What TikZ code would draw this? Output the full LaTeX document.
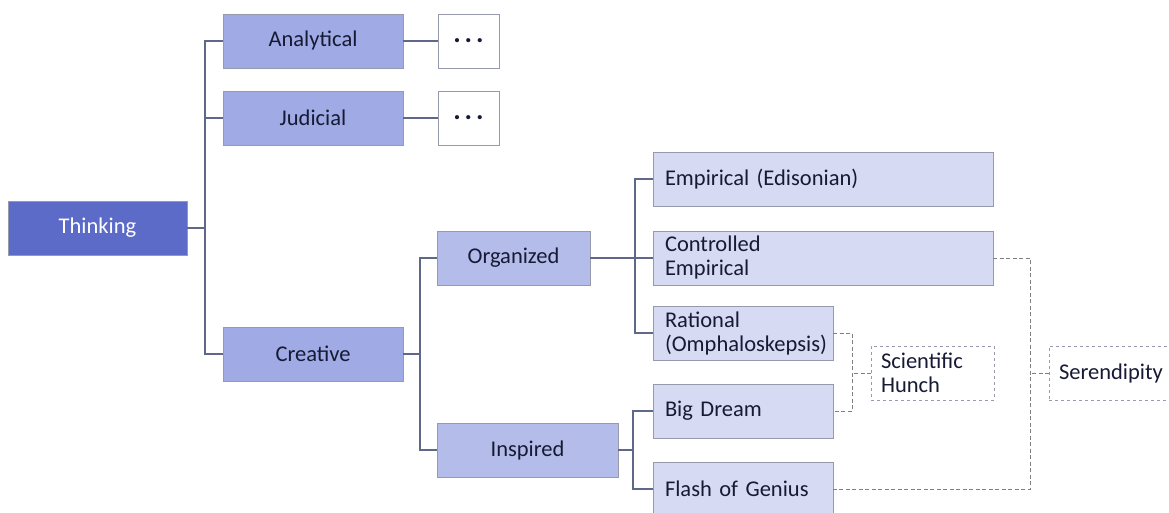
\documentclass[tikz,border=0pt]{standalone}
\usepackage{fontspec}
\setmainfont{Carlito}
\usepackage{xcolor}
\definecolor{rootblue}{RGB}{92,106,200}
\definecolor{midblue}{RGB}{160,170,228}
\definecolor{subblue}{RGB}{180,188,234}
\definecolor{leafblue}{RGB}{214,218,243}
\definecolor{edgegray}{RGB}{150,154,172}
\definecolor{linkgray}{RGB}{96,104,138}
\definecolor{inkblue}{RGB}{22,26,52}

\newcommand{\moredots}{{\fontsize{28}{28}\selectfont\bfseries .\hspace{4pt}.\hspace{4pt}.}}

\tikzset{
  box/.style={draw=edgegray, line width=0.8pt, anchor=north west, inner sep=0pt,
              outer sep=0pt, text=inkblue, font=\fontsize{22.5}{24}\selectfont},
  root/.style={box, fill=rootblue, text=white, minimum width=179pt, minimum height=54pt},
  cat/.style={box, fill=midblue, minimum width=180pt, minimum height=54pt},
  sub/.style={box, fill=subblue, minimum height=54pt},
  leaf/.style={box, fill=leafblue, minimum height=54pt, text width=#1, align=left},
  dots/.style={box, fill=white, minimum width=61pt, minimum height=54pt},
  hunch/.style={box, fill=white, dashed, minimum height=54pt, text width=#1, align=left},
  link/.style={linkgray, line width=1.3pt},
  dlink/.style={gray, line width=1pt, dash pattern=on 4pt off 2.5pt}
}

\begin{document}
\begin{tikzpicture}[x=1pt,y=-1pt]
\useasboundingbox (0,0) rectangle (1169,513);
\clip (0,0) rectangle (1169,513);

% first level
\node[root] (think) at (8,201) {Thinking};
\node[cat] (ana) at (223,14) {Analytical};
\node[cat] (jud) at (223,91) {Judicial};
\node[cat] (crea) at (223,327) {Creative};
\node[dots] (anadots) at (438,14) {\raisebox{-3pt}{\moredots}};
\node[dots] (juddots) at (438,91) {\raisebox{-3pt}{\moredots}};

% creative thinking
\node[sub, minimum width=153pt] (org) at (437,231) {Organized};
\node[sub, minimum width=181pt] (insp) at (437,423) {Inspired};

\node[leaf=316pt, minimum width=340pt] (edis) at (653,152) {Empirical (Edisonian)};
\node[leaf=316pt, minimum width=340pt] (ctrl) at (653,231) {Controlled\\Empirical};
\node[leaf=156pt, minimum width=180pt] (rat) at (653,306) {Rational\\(Omphaloskepsis)};
\node[leaf=156pt, minimum width=180pt] (dream) at (653,384) {Big Dream};
\node[leaf=156pt, minimum width=180pt] (flash) at (653,462) {Flash of Genius};

\node[hunch=103pt, minimum width=123pt] (sci) at (871,346) {Scientific\\Hunch};
\node[hunch=114pt, minimum width=134pt] (seren) at (1049,346) {Serendipity};

% tree lines
\draw[link] (think.east) -- ++(18,0) coordinate (t1);
\draw[link] (t1) |- (ana.west);
\draw[link] (t1) |- (jud.west);
\draw[link] (t1) |- (crea.west);
\draw[link] (ana.east) -- (anadots.west);
\draw[link] (jud.east) -- (juddots.west);

\draw[link] (crea.east) -- ++(17,0) coordinate (c1);
\draw[link] (c1) |- (org.west);
\draw[link] (c1) |- (insp.west);

\draw[link] (org.east) -- ++(45,0) coordinate (o1);
\draw[link] (o1) |- (edis.west);
\draw[link] (o1) |- (ctrl.west);
\draw[link] (o1) |- (rat.west);

\draw[link] (insp.east) -- ++(15,0) coordinate (i1);
\draw[link] (i1) |- (dream.west);
\draw[link] (i1) |- (flash.west);

% dashed joins
\draw[dlink] (rat.east) -- ++(19,0) coordinate (r1) |- (dream.east);
\draw[dlink] (sci.west) -- (sci.west -| r1);
\draw[dlink] (ctrl.east) -- ++(37,0) coordinate (s1) |- (flash.east);
\draw[dlink] (seren.west) -- (seren.west -| s1);

\end{tikzpicture}
\end{document}
